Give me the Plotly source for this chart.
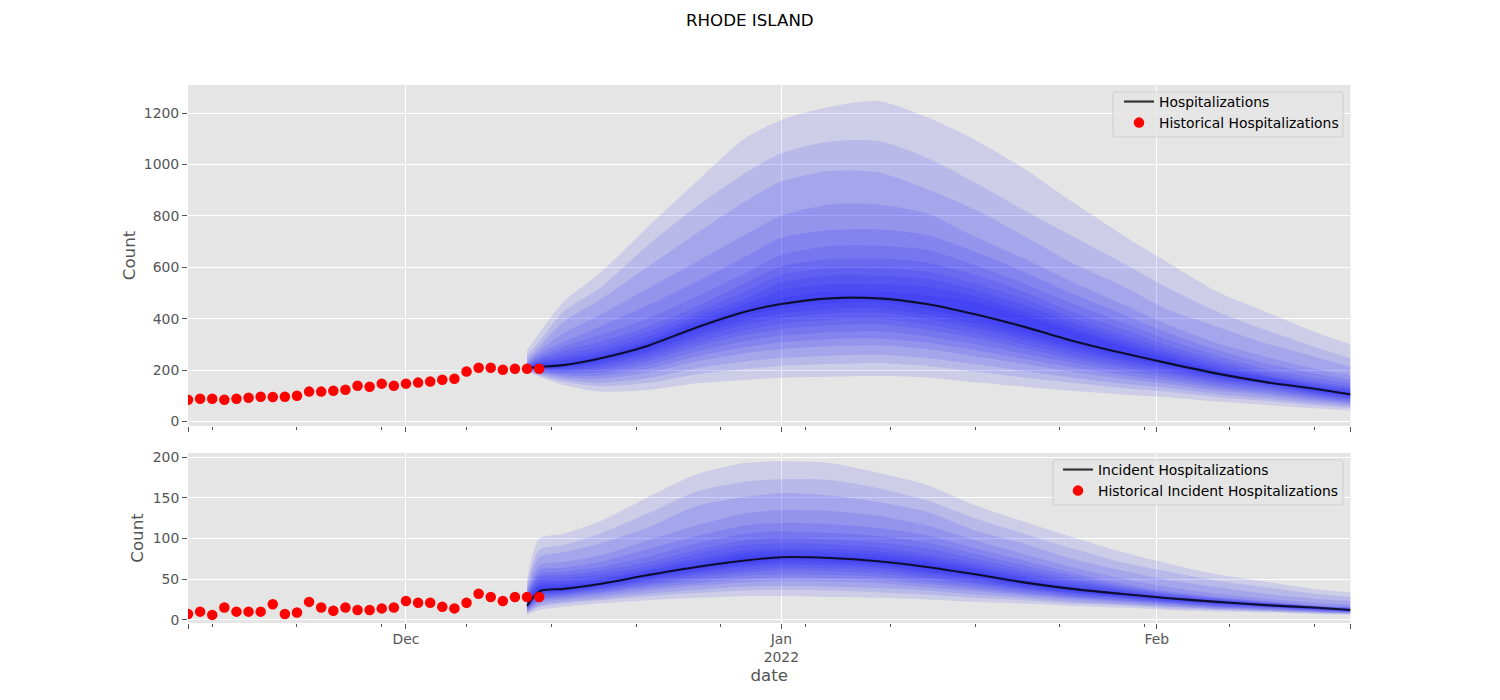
import plotly.graph_objects as go

# Historical observations
hist_dates = ["2021-11-%02d" % d for d in range(13, 31)] + ["2021-12-%02d" % d for d in range(1, 13)]
hist_hosp = [84,88,88,84,88,92,96,95,96,100,116,116,119,123,139,135,147,139,147,151,155,162,166,194,209,209,201,205,205,205]
hist_inc = [7,10,6,15,10,10,10,19,7,9,22,15,11,15,12,12,14,15,23,21,21,16,14,21,32,28,23,28,28,28]

fc_dates = ["2021-12-11","2021-12-12","2021-12-14","2021-12-17","2021-12-21","2021-12-25","2021-12-29",
            "2022-01-01","2022-01-05","2022-01-09","2022-01-13","2022-01-17","2022-01-21","2022-01-25",
            "2022-01-29","2022-02-02","2022-02-06","2022-02-10","2022-02-14","2022-02-17"]

hosp_median = [208,212,219,245,295,366,427,457,479,479,457,417,369,314,268,226,186,153,127,105]
hosp_u1 = [278,343,466,577,758,934,1103,1174,1225,1248,1185,1096,986,856,732,616,505,427,349,300]
hosp_u2 = [258,310,427,518,687,836,966,1044,1090,1092,1027,930,823,722,622,518,427,356,291,245]
hosp_u3 = [243,291,388,473,603,732,856,934,975,970,905,825,723,618,531,434,369,304,252,213]
hosp_u4 = [232,275,343,414,518,622,726,801,845,845,810,719,635,544,460,375,304,252,206,180]
hosp_u5 = [226,261,310,369,453,544,641,715,745,748,726,661,583,499,421,343,278,226,187,161]
hosp_u6 = [222,252,291,336,401,486,577,648,683,684,668,609,538,460,388,317,256,206,170,148]
hosp_u7 = [218,243,274,310,369,447,538,603,632,635,619,570,505,427,362,295,239,191,157,135]
hosp_u8 = [216,236,261,291,349,425,505,570,596,596,583,538,477,405,339,278,226,180,148,129]
hosp_u9 = [213,230,248,274,330,408,477,541,567,567,554,512,453,386,323,265,213,176,142,122]
hosp_u10 = [210,225,238,262,315,392,456,512,534,534,525,486,430,366,308,252,204,172,136,116]
hosp_u11 = [209,219,226,253,306,378,441,480,505,505,490,464,412,352,295,243,196,162,132,109]
hosp_l1 = [193,174,142,116,122,148,161,170,174,177,171,152,135,119,105,94,77,64,51,42]
hosp_l2 = [195,180,154,137,150,183,204,216,223,226,216,194,171,150,131,115,95,80,63,52]
hosp_l3 = [197,184,163,151,169,207,233,247,256,259,247,223,196,171,148,130,107,90,71,59]
hosp_l4 = [199,189,172,166,189,233,265,282,293,296,281,254,224,193,167,145,120,102,80,67]
hosp_l5 = [200,192,179,178,205,253,289,308,320,323,306,278,244,211,182,157,130,111,87,72]
hosp_l6 = [202,196,186,190,221,272,313,334,347,351,332,301,264,228,196,169,140,119,94,78]
hosp_l7 = [203,199,193,201,236,292,337,359,375,378,357,325,285,245,211,181,150,128,101,84]
hosp_l8 = [204,202,198,210,248,307,355,380,396,400,377,343,301,258,222,190,157,135,106,88]
hosp_l9 = [205,205,204,220,262,325,376,402,420,424,399,364,319,274,235,201,166,143,112,93]
hosp_l10 = [206,207,209,228,272,338,392,420,438,442,416,380,333,285,244,209,173,148,116,97]
hosp_l11 = [207,210,214,237,285,353,411,440,460,464,436,398,348,299,255,218,180,149,122,101]

inc_median = [17,35,38,44,55,65,73,77,76,72,65,56,46,38,32,26.5,22,18,15,12]
inc_u1 = [49,100,106,121,151,179,193,195,193,181,166,141,121,102,84,69,56,47,38,34]
inc_u2 = [44,86,92,106,131,158,170,173,172,162,147,125,106,88,71,59,48,40,32,28]
inc_u3 = [41,77,83,94,114,140,151,156,153,145,133,110,94,75,61,49,40,32,26,23]
inc_u4 = [36,67,71,79,98,116,131,135,134,128,116,98,81,65,51,40,32,26,21,19]
inc_u5 = [33,61,64,71,87,103,116,119,118,113,104,88,73,58,45,35,28,23,18,16]
inc_u6 = [31,56,59,65,78,94,106,109,107,103,95,81,67,54,42,33,27,22,17,15]
inc_u7 = [30,53,55,60,71,86,98,101,99,95,88,75,62,50,40,32,26,21,17,15]
inc_u8 = [28,49,51,56,66,81,92,94,93,89,81,70,58,47,38,30,25,21,16,14]
inc_u9 = [27,45,47,52,62,75,86,88,87,84,77,66,54,44,36,29,24,20,16,14]
inc_u10 = [25,42,44,49,60,71,82,84,83,80,73,63,51,41,34,28,23,19,15,13]
inc_u11 = [24,40,42,46,57,67,78,80,79,76,70,60,49,39,33,27,22,19,15,13]
inc_l1 = [6,12,16,20,24,27,29,29,28,27,25,22,20,17,15,12,10,9,7,6]
inc_l2 = [8,16,20,24,29,33,36,37,36,34,31,27,24,20,18,14,12,10,8,7]
inc_l3 = [9,18,22,26,32,37,41,42,41,39,36,31,27,22,19,16,13,11,9,8]
inc_l4 = [10,21,25,29,36,42,46,48,47,45,40,35,30,25,21,17,14,12,10,8]
inc_l5 = [11,23,27,32,39,45,50,52,51,49,44,38,32,27,23,19,15,13,10,9]
inc_l6 = [12,25,29,34,42,49,54,56,55,53,47,41,34,28,24,20,16,14,11,9]
inc_l7 = [13,27,31,36,44,52,58,61,60,57,51,44,37,30,26,21,17,15,12,10]
inc_l8 = [14,29,32,38,47,55,61,64,63,61,53,46,38,32,27,22,18,16,12,10]
inc_l9 = [15,31,34,39,49,58,65,68,67,64,57,49,40,33,28,23,19,16,13,11]
inc_l10 = [16,32,35,41,51,60,67,71,70,67,59,51,42,34,29,24,20,17,13,11]
inc_l11 = [16,34,37,43,53,63,70,74,73,69,62,53,44,36,30,25,21,17,14,12]

hosp_bands = [(hosp_u1, hosp_l1), (hosp_u2, hosp_l2), (hosp_u3, hosp_l3), (hosp_u4, hosp_l4),
              (hosp_u5, hosp_l5), (hosp_u6, hosp_l6), (hosp_u7, hosp_l7), (hosp_u8, hosp_l8),
              (hosp_u9, hosp_l9), (hosp_u10, hosp_l10), (hosp_u11, hosp_l11)]
inc_bands = [(inc_u1, inc_l1), (inc_u2, inc_l2), (inc_u3, inc_l3), (inc_u4, inc_l4),
             (inc_u5, inc_l5), (inc_u6, inc_l6), (inc_u7, inc_l7), (inc_u8, inc_l8),
             (inc_u9, inc_l9), (inc_u10, inc_l10), (inc_u11, inc_l11)]

major_ticks = ["2021-11-13", "2021-12-01", "2022-01-01", "2022-02-01", "2022-02-17"]
major_labels = ["", "Dec", "Jan<br>2022", "Feb", ""]
minor_ticks = ["2021-11-15","2021-11-22","2021-11-29","2021-12-06","2021-12-13","2021-12-20","2021-12-27",
               "2022-01-03","2022-01-10","2022-01-17","2022-01-24","2022-01-31","2022-02-07","2022-02-14"]

FONT = "DejaVu Sans"
TICK = "#555555"
W, H = 1500, 700
SMOOTH = 0.7

fig = go.Figure()


def add_panel(bands, median, hist, xa, ya, legend, name):
    for up, lo in bands:
        fig.add_trace(go.Scatter(
            x=fc_dates, y=up, xaxis=xa, yaxis=ya, mode="lines",
            line=dict(width=0, shape="spline", smoothing=SMOOTH),
            showlegend=False, hoverinfo="skip"))
        fig.add_trace(go.Scatter(
            x=fc_dates, y=lo, xaxis=xa, yaxis=ya, mode="lines",
            fill="tonexty", fillcolor="rgba(0,0,255,0.1)",
            line=dict(width=0, shape="spline", smoothing=SMOOTH),
            showlegend=False, hoverinfo="skip"))
    fig.add_trace(go.Scatter(
        x=fc_dates, y=median, xaxis=xa, yaxis=ya, mode="lines", name=name,
        line=dict(color="rgba(0,0,0,0.8)", width=2.1, shape="spline", smoothing=SMOOTH), legend=legend))
    fig.add_trace(go.Scatter(
        x=hist_dates, y=hist, xaxis=xa, yaxis=ya, mode="markers", name="Historical " + name,
        marker=dict(color="#FF0000", size=10.5), legend=legend))


add_panel(hosp_bands, hosp_median, hist_hosp, "x", "y", "legend", "Hospitalizations")
add_panel(inc_bands, inc_median, hist_inc, "x2", "y2", "legend2", "Incident Hospitalizations")

xcommon = dict(
    type="date", range=["2021-11-13", "2022-02-17"], domain=[188 / W, 1350.5 / W],
    tickmode="array", tickvals=major_ticks, ticktext=major_labels,
    ticks="outside", ticklen=5, tickwidth=1.1, tickcolor=TICK,
    tickfont=dict(family=FONT, size=13.9, color=TICK),
    showgrid=True, gridcolor="white", gridwidth=1.1, zeroline=False, showline=False,
    minor=dict(tickmode="array", tickvals=minor_ticks, ticks="outside", ticklen=2.8,
               tickwidth=1.1, tickcolor=TICK, showgrid=False),
)
ycommon = dict(
    ticks="outside", ticklen=5, tickwidth=1.1, tickcolor=TICK,
    tickfont=dict(family=FONT, size=13.9, color=TICK),
    showgrid=True, gridcolor="white", gridwidth=1.1, zeroline=False, showline=False,
)
legend_common = dict(
    xanchor="right", yanchor="top", x=1344 / W, bgcolor="rgba(0,0,0,0)", borderwidth=0,
    traceorder="normal", font=dict(family=FONT, size=13.9, color="#000000"),
)


def frame(x0, y0, x1, y1, r=3):
    x0, x1 = x0 / W, x1 / W
    y0, y1 = 1 - y0 / H, 1 - y1 / H
    rx, ry = r / W, r / H
    path = (f"M {x0 + rx} {y0} L {x1 - rx} {y0} Q {x1} {y0} {x1} {y0 - ry} "
            f"L {x1} {y1 + ry} Q {x1} {y1} {x1 - rx} {y1} "
            f"L {x0 + rx} {y1} Q {x0} {y1} {x0} {y1 + ry} "
            f"L {x0} {y0 - ry} Q {x0} {y0} {x0 + rx} {y0} Z")
    return dict(type="path", xref="paper", yref="paper", path=path, layer="above",
                fillcolor="rgba(229,229,229,0.8)", line=dict(color="rgba(204,204,204,0.8)", width=1.1))


fig.update_layout(
    width=W, height=H, autosize=False, margin=dict(l=0, r=0, t=0, b=0, pad=0, autoexpand=False),
    paper_bgcolor="white", plot_bgcolor="#E5E5E5", font=dict(family=FONT),
    showlegend=True,
    xaxis=dict(xcommon, anchor="y", showticklabels=False),
    xaxis2=dict(xcommon, anchor="y2", ticklabelstandoff=-2,
                title=dict(text="date", font=dict(family=FONT, size=16.67, color=TICK), standoff=5)),
    yaxis=dict(ycommon, domain=[1 - 426 / H, 1 - 85 / H], anchor="x", range=[-18, 1310],
               tickvals=[0, 200, 400, 600, 800, 1000, 1200],
               title=dict(text="Count", font=dict(family=FONT, size=16.67, color=TICK), standoff=4)),
    yaxis2=dict(ycommon, domain=[1 - 623 / H, 1 - 453 / H], anchor="x2", range=[-4, 205.3],
                tickvals=[0, 50, 100, 150, 200],
                title=dict(text="Count", font=dict(family=FONT, size=16.67, color=TICK), standoff=4)),
    legend=dict(legend_common, y=1 - 86 / H),
    legend2=dict(legend_common, y=1 - 454 / H),
    shapes=[frame(1113, 92, 1343, 137), frame(1053, 460, 1343, 505)],
    annotations=[dict(text="RHODE ISLAND", x=0.5, y=1 - 20 / H, xref="paper", yref="paper",
                      showarrow=False, xanchor="center", yanchor="middle",
                      font=dict(family=FONT, size=16.67, color="#000000"))],
)

fig.write_html("out.html", config=dict(displayModeBar=False),
               post_script="document.body.style.margin='0';document.body.style.overflow='hidden';")
